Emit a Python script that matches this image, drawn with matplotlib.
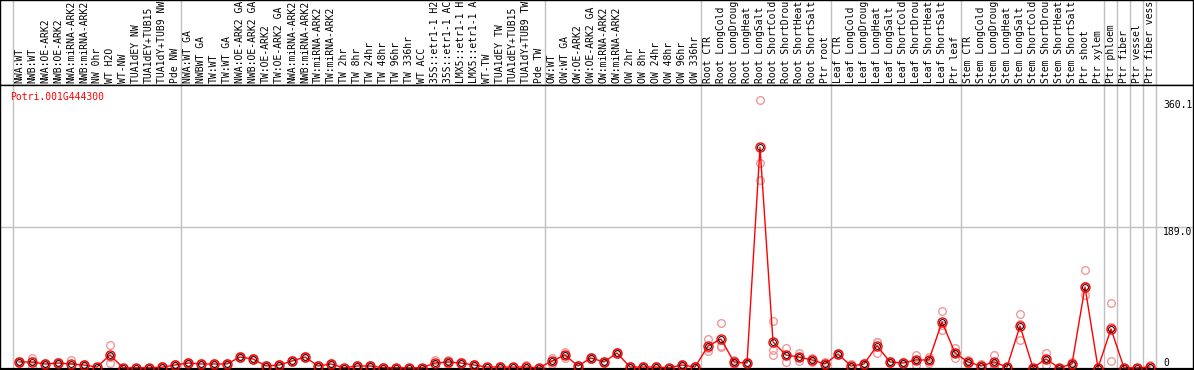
import numpy as np
import matplotlib.pyplot as plt

# Sample labels (as shown, truncated to 14 chars by the source)
labels = [
    "NWA:WT", "NWB:WT", "NWA:OE-ARK2", "NWB:OE-ARK2", "NWA:miRNA-ARK2", "NWB:miRNA-ARK2",
    "NW 0hr", "WT H2O", "WT-NW", "TUA1dEY NW", "TUA1dEY+TUB15", "TUA1dY+TUB9 NW", "Pde NW",
    "NWA:WT GA", "NWBWT GA", "TW:WT", "TW:WT GA", "NWA:OE-ARK2 GA", "NWB:OE-ARK2 GA",
    "TW:OE-ARK2", "TW:OE-ARK2 GA", "NWA:miRNA-ARK2", "NWB:miRNA-ARK2", "TW:miRNA-ARK2",
    "TW:miRNA-ARK2", "TW 2hr", "TW 8hr", "TW 24hr", "TW 48hr", "TW 96hr", "TW 336hr",
    "WT ACC", "35S::etr1-1 H2", "35S::etr1-1 AC", "LMX5::etr1-1 H", "LMX5::etr1-1 A",
    "WT-TW", "TUA1dEY TW", "TUA1dEY+TUB15", "TUA1dY+TUB9 TW", "Pde TW",
    "OW:WT", "OW:WT GA", "OW:OE-ARK2", "OW:OE-ARK2 GA", "OW:miRNA-ARK2", "OW:miRNA-ARK2",
    "OW 2hr", "OW 8hr", "OW 24hr", "OW 48hr", "OW 96hr", "OW 336hr",
    "Root CTR", "Root LongCold", "Root LongDroug", "Root LongHeat", "Root LongSalt",
    "Root ShortCold", "Root ShortDrou", "Root ShortHeat", "Root ShortSalt", "Ptr root",
    "Leaf CTR", "Leaf LongCold", "Leaf LongDroug", "Leaf LongHeat", "Leaf LongSalt",
    "Leaf ShortCold", "Leaf ShortDrou", "Leaf ShortHeat", "Leaf ShortSalt", "Ptr leaf",
    "Stem CTR", "Stem LongCold", "Stem LongDroug", "Stem LongHeat", "Stem LongSalt",
    "Stem ShortCold", "Stem ShortDrou", "Stem ShortHeat", "Stem ShortSalt", "Ptr shoot",
    "Ptr xylem", "Ptr phloem", "Ptr fiber", "Ptr vessel", "Ptr fiber vess",
]
group_sizes = [13, 28, 12, 10, 10, 11, 1, 1, 1, 1]

# mean expression
means = [8.1, 8.1, 5.4, 6.7, 5.4, 4.0, 1.3, 17.5, 0.3, 0.3,
         0.3, 1.0, 4.0, 6.7, 5.4, 5.4, 5.4, 14.8, 12.1, 2.7,
         4.0, 9.4, 14.8, 2.7, 5.4, 0.3, 2.7, 2.7, 0.5, 0.4,
         0.2, 0.4, 6.7, 8.1, 6.7, 4.0, 1.3, 1.3, 1.3, 1.3,
         0.2, 9.4, 17.5, 2.7, 13.5, 8.1, 20.2, 1.3, 1.3, 1.3,
         0.3, 4.0, 1.3, 29.6, 39.0, 8.1, 6.7, 297.0, 35.0, 17.5,
         14.8, 10.8, 5.4, 18.8, 2.7, 5.4, 30.0, 8.1, 6.7, 10.8,
         10.8, 62.0, 20.2, 8.1, 2.7, 8.1, 1.3, 56.5, 0.3, 12.1,
         0.3, 5.4, 109.0, 0.3, 52.5, 0.2, 0.2, 1.3]

# replicates
rep_a = [9.4, 13.5, 6.7, 8.1, 10.8, 5.4, 1.3, 31.0, 0.5, 0.4,
         0.4, 2.7, 5.4, 8.1, 6.7, 6.7, 6.7, 16.2, 13.5, 4.0,
         5.4, 10.8, 16.2, 4.0, 6.7, 0.4, 4.0, 4.0, 0.7, 0.5,
         0.3, 0.5, 10.8, 10.8, 8.1, 5.4, 1.3, 2.7, 1.3, 4.0,
         0.3, 13.5, 21.5, 4.0, 14.8, 9.4, 21.5, 2.7, 2.7, 2.7,
         0.4, 5.4, 2.7, 39.0, 60.0, 10.8, 8.1, 360.1, 63.0, 27.0,
         20.2, 13.5, 8.1, 20.2, 5.4, 6.7, 35.0, 9.4, 8.1, 17.5,
         14.8, 77.0, 27.0, 10.8, 5.4, 17.5, 1.3, 72.6, 0.5, 20.2,
         0.4, 8.1, 132.0, 0.3, 87.0, 0.3, 0.3, 4.0]
rep_b = [8.1, 1.3, 5.4, 6.7, 2.7, 4.0, 1.3, 14.8, 0.3, 0.3,
         0.3, 0.3, 4.0, 6.7, 5.4, 5.4, 4.0, 14.8, 12.1, 2.7,
         4.0, 9.4, 14.8, 2.7, 5.4, 0.3, 2.7, 2.7, 0.5, 0.4,
         0.2, 0.4, 5.4, 8.1, 6.7, 4.0, 1.3, 1.3, 1.3, 0.3,
         0.2, 9.4, 17.5, 2.7, 13.5, 8.1, 20.2, 0.7, 1.3, 1.3,
         0.3, 4.0, 1.3, 27.0, 28.0, 8.1, 6.7, 276.0, 24.0, 17.5,
         14.8, 10.8, 5.4, 18.8, 1.3, 5.4, 20.0, 8.1, 6.7, 10.8,
         10.8, 58.0, 20.2, 8.1, 2.7, 5.4, 1.3, 59.0, 0.3, 12.1,
         0.3, 5.4, 110.0, 0.3, 55.0, 0.2, 0.2, 0.3]
rep_c = [6.7, 9.4, 4.0, 5.4, 2.7, 2.7, 1.3, 6.7, 0.2, 0.2,
         0.2, 0.3, 2.7, 5.4, 4.0, 4.0, 5.4, 13.5, 10.8, 1.3,
         2.7, 8.1, 13.5, 1.3, 4.0, 0.2, 1.3, 1.3, 0.3, 0.3,
         0.1, 0.3, 4.0, 5.4, 5.4, 2.7, 1.3, 0.3, 1.3, 0.3,
         0.1, 5.4, 13.5, 1.3, 12.1, 6.7, 18.8, 0.3, 0.3, 0.3,
         0.2, 2.7, 0.3, 23.0, 29.0, 5.4, 5.4, 253.0, 17.5, 8.1,
         9.4, 8.1, 2.7, 17.5, 1.3, 4.0, 35.0, 6.7, 5.4, 4.0,
         6.7, 51.0, 13.5, 5.4, 1.3, 1.3, 1.3, 37.7, 0.2, 4.0,
         0.2, 2.7, 98.0, 0.3, 9.4, 0.1, 0.1, 0.3]

gene = "Potri.001G444300"
ytick_vals = [360.1, 189.0, 0]
ytick_text = ["360.1", "189.0", "0"]

W, H = 1194, 370
font = "DejaVu Sans Mono"
fs = 7.0
k = 1.345  # value per pixel

fig = plt.figure(figsize=(W / 100, H / 100), dpi=100)

def px_axes(x0, y0, x1, y1):
    return fig.add_axes([x0 / W, 1 - y1 / H, (x1 - x0) / W, (y1 - y0) / H])

x = np.arange(len(labels))
xlim = (-19 / 13, (1193 - 19) / 13)
bounds = np.concatenate([[0], np.cumsum(group_sizes)]) - 0.5

# label strip
lab = px_axes(0, 0, 1193, 85)
lab.set_xlim(xlim)
lab.set_ylim(0, 85)
lab.set_xticks([])
lab.set_yticks([])
for s in lab.spines.values():
    s.set_linewidth(1.0)
    s.set_color("black")
for b in bounds:
    lab.axvline(b, color="#c0c0c0", lw=1.0)
for xi, t in zip(x, labels):
    lab.text(xi, 2.0, t, rotation=90, ha="center", va="bottom",
             fontsize=fs, family=font, color="black", clip_on=True)

# plot area
ax = px_axes(0, 85, 1193, 368.5)
ax.set_xlim(xlim)
ax.set_ylim(-0.5 * k, (368 - 85) * k)
ax.set_xticks([])
ax.set_yticks([])
for s in ax.spines.values():
    s.set_linewidth(1.0)
    s.set_color("black")
ax.spines["bottom"].set_linewidth(1.6)
for b in bounds:
    ax.axvline(b, color="#c0c0c0", lw=1.0, zorder=0)
ax.axhline(189.0, color="#c0c0c0", lw=1.0, zorder=0)

for r in (rep_a, rep_b, rep_c):
    ax.plot(x, r, ls="none", marker="o", ms=5.5, mfc="none", mec="#ee9a9a",
            mew=1.0, clip_on=False, zorder=2)
ax.plot(x, means, color="red", lw=1.0, zorder=3, clip_on=False)
ax.plot(x, means, ls="none", marker="o", ms=6.5, mfc="none", mec="red",
        mew=1.0, clip_on=False, zorder=4)
ax.plot(x, means, ls="none", marker="o", ms=4.2, mfc="none", mec="black",
        mew=0.7, clip_on=False, zorder=5)

ax.text(10 / W, 1 - (97 - 85) / (368.5 - 85), gene, transform=ax.transAxes,
        ha="left", va="center", fontsize=fs, family=font, color="red")
for v, t in zip(ytick_vals, ytick_text):
    ypx = 368 - v / k
    off = 5 if v > 0 else -5
    ax.text(1163 / 1193, 1 - (ypx + off - 85) / (368.5 - 85), t,
            transform=ax.transAxes, ha="left", va="center",
            fontsize=fs, family=font, color="black")

fig.savefig("out.png", dpi=100)
